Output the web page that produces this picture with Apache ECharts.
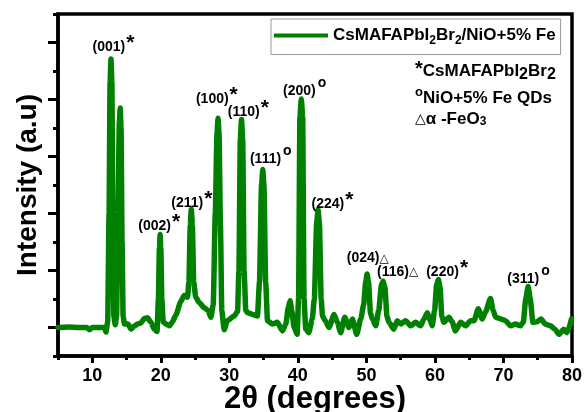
<!DOCTYPE html>
<html><head><meta charset="utf-8">
<script src="https://cdn.jsdelivr.net/npm/echarts@6/dist/echarts.min.js"></script>
<style>html,body{margin:0;padding:0;background:#fff}#c{width:585px;height:412px}</style>
</head><body><div id="c"></div>
<script>
// ---- data ----
const seriesName = 'CsMAFAPbI2Br2/NiO+5% Fe';
const twoTheta = [5, 6.5, 8, 9.2, 9.6, 10.0, 11.0, 11.8, 12.0, 12.25, 12.45, 12.6, 12.73, 12.86, 13.0, 13.15, 13.35, 13.55, 13.75, 13.95, 14.08, 14.2, 14.35, 14.5, 14.7, 15.2, 15.65, 16.1, 16.6, 17.1, 17.6, 18.07, 18.56, 19.04, 19.45, 19.65, 19.8, 19.9, 20.0, 20.15, 20.35, 20.74, 21.3, 21.7, 22.2, 22.9, 23.4, 23.9, 24.1, 24.3, 24.45, 24.6, 24.8, 25.1, 25.6, 26.3, 26.9, 27.3, 27.65, 27.95, 28.2, 28.35, 28.5, 28.7, 28.9, 29.24, 29.7, 30.7, 31.2, 31.4, 31.6, 31.78, 31.95, 32.15, 32.4, 32.65, 33.4, 34.1, 34.4, 34.7, 34.88, 35.05, 35.3, 35.57, 36.3, 37.0, 37.75, 38.25, 38.6, 38.87, 39.1, 39.45, 39.9, 40.1, 40.3, 40.5, 40.7, 40.9, 41.15, 41.6, 42.1, 42.4, 42.75, 42.95, 43.15, 43.4, 43.6, 44.0, 44.55, 45.28, 45.76, 46.25, 46.84, 47.46, 47.95, 48.59, 49.17, 49.6, 49.9, 50.1, 50.3, 50.6, 50.87, 51.36, 51.8, 52.2, 52.45, 52.7, 53.0, 53.3, 54.0, 54.5, 55.0, 55.73, 56.46, 57.19, 57.9, 58.4, 58.9, 59.3, 59.6, 59.95, 60.25, 60.5, 60.75, 61.0, 61.3, 62.05, 62.5, 63.0, 63.75, 64.48, 65.2, 65.7, 66.32, 66.9, 67.4, 68.1, 68.5, 68.85, 69.58, 70.3, 71.0, 71.76, 72.5, 72.9, 73.25, 73.6, 73.9, 74.3, 74.9, 75.5, 76.1, 76.86, 77.5, 78.1, 78.8, 79.3, 79.93];
const intensity = [0.50, 0.51, 0.50, 0.50, 0.46, 0.50, 0.50, 0.50, 0.42, 0.6, 2.5, 4.8, 5.21, 4.8, 2.5, 0.7, 0.55, 0.7, 2.5, 4.1, 4.35, 4.0, 2.0, 0.7, 0.56, 0.56, 0.47, 0.52, 0.56, 0.58, 0.66, 0.67, 0.59, 0.47, 0.43, 1.0, 1.9, 2.13, 1.9, 1.0, 0.6, 0.56, 0.53, 0.6, 0.72, 0.95, 1.06, 1.03, 1.3, 2.3, 2.58, 2.3, 1.3, 1.03, 0.94, 0.85, 0.8, 0.68, 0.9, 2.5, 3.9, 4.17, 3.9, 2.3, 0.8, 0.46, 0.62, 0.7, 0.78, 1.5, 3.8, 4.15, 3.8, 1.5, 0.8, 0.76, 0.73, 0.7, 1.3, 3.0, 3.27, 3.0, 1.3, 0.62, 0.56, 0.59, 0.44, 0.56, 0.85, 0.97, 0.8, 0.5, 0.38, 1.0, 4.2, 4.51, 4.2, 1.0, 0.47, 0.41, 0.65, 1.0, 2.35, 2.57, 2.3, 1.0, 0.7, 0.62, 0.5, 0.73, 0.59, 0.41, 0.68, 0.5, 0.65, 0.38, 0.65, 0.9, 1.3, 1.44, 1.3, 0.75, 0.65, 0.53, 0.8, 1.25, 1.31, 1.2, 0.7, 0.59, 0.47, 0.62, 0.56, 0.62, 0.53, 0.59, 0.53, 0.65, 0.76, 0.62, 0.53, 0.8, 1.25, 1.34, 1.2, 0.7, 0.59, 0.68, 0.6, 0.44, 0.59, 0.53, 0.62, 0.62, 0.83, 0.65, 0.78, 1.01, 0.8, 0.68, 0.65, 0.62, 0.53, 0.56, 0.53, 0.6, 1.0, 1.22, 1.0, 0.59, 0.6, 0.65, 0.56, 0.53, 0.47, 0.38, 0.47, 0.41, 0.65];
const peakLabels = ['(001)', '(002)', '(211)', '(100)', '(110)', '(111)', '(200)', '(224)', '(024)', '(116)', '(220)', '(311)'];
const peakMarks  = ['*', '*', '*', '*', '*', 'o', 'o', '*', '△', '△', '*', 'o'];
const labelX = [13.09, 19.77, 24.53, 28.18, 32.77, 36.05, 41.0, 45.04, 50.19, 54.56, 61.78, 73.66];
const labelY = [5.42, 2.27, 2.68, 4.51, 4.27, 3.45, 4.65, 2.66, 1.71, 1.47, 1.47, 1.35];
const xTickLabels = ['5','10','15','20','25','30','35','40','45','50','55','60','65','70','75','80'];

// ---- chart ----
const FONT = '"Liberation Sans", Arial, sans-serif';
const markKey = {'*': 'ast', 'o': 'ring', '△': 'tri'};
const chart = echarts.init(document.getElementById('c'), null, {renderer: 'canvas'});
chart.setOption({
  animation: false,
  backgroundColor: '#fff',
  grid: {left: 58, right: 13, top: 14, bottom: 56, show: true, borderColor: '#000', borderWidth: 3.5,
         containLabel: false, outerBoundsMode: 'none'},
  legend: {
    show: true,
    data: [{name: seriesName, icon: 'rect'}], left: 271, top: 19, padding: [8, 5, 8, 3],
    itemWidth: 54, itemHeight: 4, borderColor: '#999', borderWidth: 1,
    itemStyle: {color: '#008000'},
    formatter: () => '{b|CsMAFAPbI}{sub|2}{b|Br}{sub|2}{b|/NiO+5% Fe}',
    textStyle: {
      fontFamily: FONT, fontWeight: 'bold', fontSize: 17, color: '#000',
      rich: {
        b: {fontFamily: FONT, fontWeight: 'bold', fontSize: 17, color: '#000'},
        sub: {fontFamily: FONT, fontWeight: 'bold', fontSize: 12, color: '#000', padding: [10, 0, 0, 0]}
      }
    }
  },
  xAxis: [{
    type: 'value', min: 5, max: 80, interval: 5,
    axisLine: {show: true, lineStyle: {color: '#000', width: 3.5}},
    axisTick: {show: true, length: 4, lineStyle: {color: '#000', width: 3}},
    axisLabel: {show: false}, splitLine: {show: false},
    name: '2θ (degrees)', nameLocation: 'middle', nameGap: 28,
    nameTextStyle: {fontFamily: FONT, fontWeight: 'bold', fontSize: 31, color: '#000'}
  }, {
    type: 'category', data: xTickLabels, boundaryGap: false, position: 'bottom',
    axisLine: {show: false},
    axisTick: {show: true, length: 7, interval: (i) => i % 2 === 1, lineStyle: {color: '#000', width: 3}},
    axisLabel: {show: true, interval: (i) => i % 2 === 1, margin: 11, fontFamily: FONT, fontWeight: 'bold', fontSize: 18, color: '#000'},
    splitLine: {show: false}
  }],
  yAxis: {
    type: 'value', min: 0, max: 6, interval: 1,
    axisLine: {show: true, lineStyle: {color: '#000', width: 3.5}},
    axisTick: {show: true, length: 5, lineStyle: {color: '#000', width: 3}},
    minorTick: {show: true, splitNumber: 2, length: 10, lineStyle: {color: '#000', width: 3}},
    axisLabel: {show: false}, splitLine: {show: false}, minorSplitLine: {show: false}
  },
  graphic: [
    {type: 'text', x: 28, y: 185, rotation: Math.PI / 2,
     style: {text: 'Intensity (a.u)', align: 'center', verticalAlign: 'middle', fill: '#000',
             font: 'bold 28px ' + FONT}},
    {type: 'text', x: 415, y: 71,
     style: {text: '{ast|*}{b|CsMAFAPbI}{sub|2}{b|Br}{sub|2}', align: 'left', verticalAlign: 'middle',
             rich: {ast: {font: 'bold 20px ' + FONT, fill: '#000', padding: [0, 0, 4, 0]},
                    b: {font: 'bold 17px ' + FONT, fill: '#000'},
                    sub: {font: 'bold 16px ' + FONT, fill: '#000', padding: [7, 0, 0, 0]}}}},
    {type: 'text', x: 415, y: 98,
     style: {text: '{ring|o}{b|NiO+5% Fe QDs}', align: 'left', verticalAlign: 'middle',
             rich: {ring: {font: 'bold 13px ' + FONT, fill: '#000', padding: [0, 0, 12, 0]},
                    b: {font: 'bold 17px ' + FONT, fill: '#000'}}}},
    {type: 'text', x: 415, y: 119,
     style: {text: '{tri|△}{b|α -FeO}{sub|3}', align: 'left', verticalAlign: 'middle',
             rich: {tri: {font: '14px "DejaVu Sans", sans-serif', fill: '#000'},
                    b: {font: 'bold 17px ' + FONT, fill: '#000'},
                    sub: {font: 'bold 12px ' + FONT, fill: '#000', padding: [6, 0, 0, 0]}}}}
  ],
  series: [{
    name: seriesName, type: 'line', xAxisIndex: 0,
    data: twoTheta.map((x, i) => [x, intensity[i]]),
    symbol: 'none', smooth: 0.2, smoothMonotone: 'x',
    lineStyle: {color: '#008000', width: 5.5, cap: 'round', join: 'round'},
    itemStyle: {color: '#008000'}, z: 2
  }, {
    name: 'labels', type: 'scatter', xAxisIndex: 0, silent: true,
    data: labelX.map((x, i) => [x, labelY[i], i]),
    symbolSize: 1, itemStyle: {color: 'rgba(0,0,0,0)', opacity: 1},
    label: {
      show: true, position: 'inside', color: '#000', textBorderWidth: 0, opacity: 1,
      formatter: (p) => '{t|' + peakLabels[p.data[2]] + '}{' + markKey[peakMarks[p.data[2]]] + '|' + peakMarks[p.data[2]] + '}',
      rich: {
        t: {fontFamily: FONT, fontWeight: 'bold', fontSize: 14, color: '#000', textBorderWidth: 0},
        ast: {fontFamily: FONT, fontWeight: 'bold', fontSize: 21, color: '#000', padding: [0, 0, 8, 1], textBorderWidth: 0},
        ring: {fontFamily: FONT, fontWeight: 'bold', fontSize: 14, color: '#000', padding: [0, 0, 16, 2], textBorderWidth: 0},
        tri: {fontFamily: '"DejaVu Sans", sans-serif', fontSize: 12, color: '#000', textBorderWidth: 0}
      }
    }, z: 3
  }]
});
</script></body></html>
